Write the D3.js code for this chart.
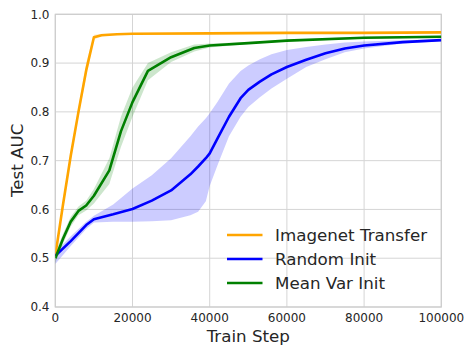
<!DOCTYPE html>
<html>
<head>
<meta charset="utf-8">
<script src="https://cdn.jsdelivr.net/npm/d3@7"></script>
<style>
  body { margin: 0; background: #fff; }
  text { font-family: "DejaVu Sans", sans-serif; fill: #262626; }
</style>
</head>
<body>
<div id="chart"></div>
<script>
// ---- data ----
const seriesNames = ['Imagenet Transfer', 'Random Init', 'Mean Var Init'];
const seriesColors = ['#ffa500', '#0000ff', '#008000'];

const transferSteps = [0, 2000, 4000, 6000, 8000, 10000, 12000, 16000, 20000, 40000, 60000, 80000, 100000];
const transferMean  = [0.505, 0.61, 0.71, 0.80, 0.885, 0.953, 0.957, 0.959, 0.960, 0.961, 0.962, 0.962, 0.963];
const transferLow   = [0.500, 0.60, 0.70, 0.79, 0.872, 0.948, 0.955, 0.958, 0.959, 0.960, 0.961, 0.961, 0.962];
const transferHigh  = [0.510, 0.62, 0.72, 0.81, 0.900, 0.958, 0.960, 0.961, 0.961, 0.962, 0.963, 0.963, 0.964];

const randomSteps = [0, 4000, 8000, 10000, 15000, 20000, 25000, 30000, 35000, 37000, 39000, 40000, 42000, 45000, 48000, 50000, 53000, 56000, 60000, 65000, 70000, 75000, 80000, 90000, 100000];
const randomMean  = [0.505, 0.535, 0.568, 0.580, 0.590, 0.601, 0.618, 0.639, 0.672, 0.688, 0.705, 0.715, 0.745, 0.790, 0.828, 0.845, 0.862, 0.877, 0.892, 0.907, 0.920, 0.930, 0.936, 0.943, 0.947];
const randomLow   = [0.488, 0.525, 0.560, 0.573, 0.575, 0.575, 0.576, 0.578, 0.588, 0.595, 0.617, 0.648, 0.690, 0.750, 0.790, 0.810, 0.830, 0.848, 0.868, 0.892, 0.908, 0.922, 0.930, 0.940, 0.945];
const randomHigh  = [0.512, 0.545, 0.575, 0.587, 0.610, 0.643, 0.670, 0.705, 0.750, 0.770, 0.787, 0.797, 0.820, 0.858, 0.884, 0.895, 0.908, 0.918, 0.927, 0.933, 0.938, 0.942, 0.944, 0.947, 0.949];

const meanVarSteps = [0, 2000, 4000, 6000, 8000, 10000, 14000, 17000, 20000, 24000, 30000, 36000, 40000, 50000, 60000, 80000, 100000];
const meanVarMean  = [0.500, 0.540, 0.575, 0.597, 0.608, 0.628, 0.680, 0.760, 0.820, 0.884, 0.912, 0.931, 0.936, 0.941, 0.946, 0.952, 0.954];
const meanVarLow   = [0.490, 0.530, 0.565, 0.588, 0.598, 0.612, 0.652, 0.728, 0.790, 0.865, 0.902, 0.924, 0.932, 0.939, 0.944, 0.950, 0.952];
const meanVarHigh  = [0.510, 0.550, 0.585, 0.606, 0.618, 0.642, 0.705, 0.790, 0.850, 0.900, 0.922, 0.938, 0.940, 0.943, 0.948, 0.954, 0.956];

const xTicks = [0, 20000, 40000, 60000, 80000, 100000];
const yTicks = [0.4, 0.5, 0.6, 0.7, 0.8, 0.9, 1.0];

// ---- layout ----
const W = 474, H = 354;
const plot = { left: 55.3, right: 441.3, top: 14.3, bottom: 307 };

const svg = d3.select('#chart').append('svg')
  .attr('width', W).attr('height', H);

const x = d3.scaleLinear().domain([0, 100000]).range([plot.left, plot.right]);
const y = d3.scaleLinear().domain([0.4, 1.0]).range([plot.bottom, plot.top]);

// grid
const grid = svg.append('g').attr('class', 'grid');
grid.selectAll('.gx').data(xTicks).enter().append('line')
  .attr('x1', d => x(d)).attr('x2', d => x(d))
  .attr('y1', plot.top).attr('y2', plot.bottom)
  .attr('stroke', '#d5d5d5').attr('stroke-width', 1);
grid.selectAll('.gy').data(yTicks).enter().append('line')
  .attr('x1', plot.left).attr('x2', plot.right)
  .attr('y1', d => y(d)).attr('y2', d => y(d))
  .attr('stroke', '#d5d5d5').attr('stroke-width', 1);

// frame
svg.append('rect')
  .attr('x', plot.left).attr('y', plot.top)
  .attr('width', plot.right - plot.left).attr('height', plot.bottom - plot.top)
  .attr('fill', 'none').attr('stroke', '#cccccc').attr('stroke-width', 1.2);

// series
const series = [
  { steps: transferSteps, mean: transferMean, low: transferLow, high: transferHigh },
  { steps: randomSteps, mean: randomMean, low: randomLow, high: randomHigh },
  { steps: meanVarSteps, mean: meanVarMean, low: meanVarLow, high: meanVarHigh }
];

svg.append('clipPath').attr('id', 'clip').append('rect')
  .attr('x', plot.left).attr('y', plot.top)
  .attr('width', plot.right - plot.left).attr('height', plot.bottom - plot.top);

const area = d3.area()
  .x(d => x(d.s)).y0(d => y(d.lo)).y1(d => y(d.hi));
const line = d3.line().x(d => x(d.s)).y(d => y(d.m));

const marks = svg.append('g').attr('clip-path', 'url(#clip)');
series.forEach((sr, i) => {
  const pts = sr.steps.map((s, j) => ({ s: s, m: sr.mean[j], lo: sr.low[j], hi: sr.high[j] }));
  marks.append('path').datum(pts)
    .attr('d', area)
    .attr('fill', seriesColors[i]).attr('fill-opacity', 0.2);
});
series.forEach((sr, i) => {
  const pts = sr.steps.map((s, j) => ({ s: s, m: sr.mean[j] }));
  marks.append('path').datum(pts)
    .attr('d', line)
    .attr('fill', 'none')
    .attr('stroke', seriesColors[i]).attr('stroke-width', 2.6)
    .attr('stroke-linejoin', 'round');
});

// tick labels
svg.selectAll('.xt').data(xTicks).enter().append('text')
  .attr('x', d => x(d)).attr('y', 322)
  .attr('text-anchor', 'middle').style('font-size', '12px')
  .text(d => d);
svg.selectAll('.yt').data(yTicks).enter().append('text')
  .attr('x', 49.5).attr('y', d => y(d)).attr('dy', '0.35em')
  .attr('text-anchor', 'end').style('font-size', '12px')
  .text(d => d.toFixed(1));

// axis labels
svg.append('text')
  .attr('x', x(50000)).attr('y', 341.5)
  .attr('text-anchor', 'middle').style('font-size', '16.7px')
  .text('Train Step');
svg.append('text')
  .attr('transform', `translate(23, 160.3) rotate(-90)`)
  .attr('text-anchor', 'middle').style('font-size', '16.7px')
  .text('Test AUC');

// legend
const legend = svg.append('g').attr('transform', 'translate(227, 235)');
seriesNames.forEach((name, i) => {
  const row = legend.append('g').attr('transform', `translate(0, ${i * 24})`);
  row.append('line')
    .attr('x1', 0).attr('x2', 35.5).attr('y1', 0).attr('y2', 0)
    .attr('stroke', seriesColors[i]).attr('stroke-width', 2.6);
  row.append('text')
    .attr('x', 48).attr('y', 0).attr('dy', '0.35em')
    .style('font-size', '16.7px')
    .text(name);
});
</script>
</body>
</html>
